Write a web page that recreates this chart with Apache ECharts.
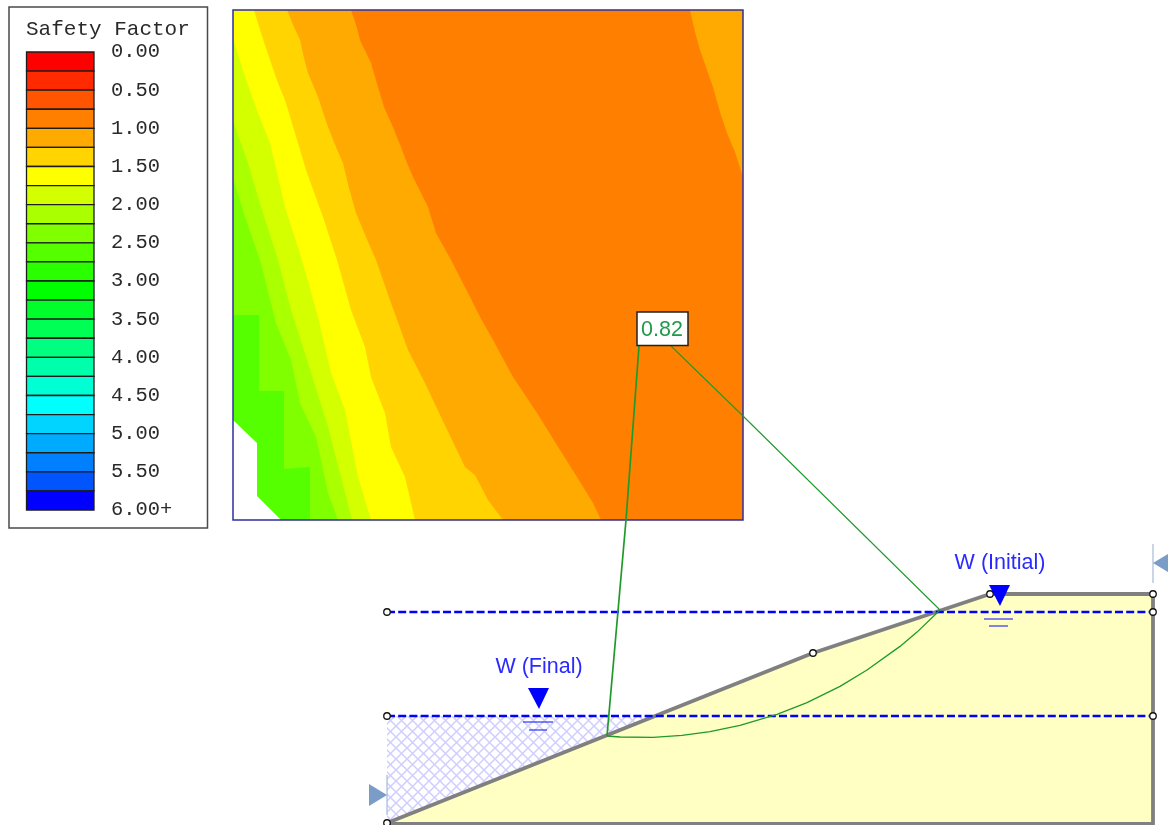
<!DOCTYPE html>
<html>
<head>
<meta charset="utf-8">
<style>html,body{margin:0;padding:0;background:#fff}#c{width:1168px;height:825px}</style>
<script src="https://cdn.jsdelivr.net/npm/echarts@6/dist/echarts.min.js"></script>
</head>
<body>
<div id="c"></div>
<script>
// ---------- Legend data ----------
const legendTitle = 'Safety Factor';
const legendTicks = ['0.00','0.50','1.00','1.50','2.00','2.50','3.00','3.50','4.00','4.50','5.00','5.50','6.00+'];
const legendEdges = [0,0.25,0.5,0.75,1,1.25,1.5,1.75,2,2.25,2.5,2.75,3,3.25,3.5,3.75,4,4.25,4.5,4.75,5,5.25,5.5,5.75,6];
const legendColors = ['#ff0000','#ff2a00','#ff5500','#ff8000','#ffaa00','#ffd400','#ffff00','#d4ff00','#aaff00','#80ff00','#55ff00','#2aff00','#00ff00','#00ff2a','#00ff55','#00ff80','#00ffaa','#00ffd4','#00ffff','#00d4ff','#00aaff','#0080ff','#0055ff','#0000ff'];

// ---------- Contour plot boundaries (drawing units) ----------
const gridFrame = [[233,10],[743,10],[743,520],[233,520]];
const contourTopRight = [[690,10],[695,32],[700,50],[707,70],[713,87],[720,112],[727,133],[735,152],[743,177],[743,10]];
const contourOrangeAmber = [[351,10],[357,28],[360,40],[371,63],[378,87],[384,107],[392,125],[401,147],[407,163],[413,177],[428,207],[436,233],[451,260],[468,293],[480,317],[493,340],[513,377],[537,413],[560,450],[577,477],[593,503],[601,520]];
const contourAmberGold = [[287,10],[294,27],[300,40],[304,58],[308,73],[318,97],[328,127],[336,147],[343,163],[349,188],[356,213],[366,237],[376,260],[391,303],[408,350],[425,383],[441,417],[465,467],[475,475],[488,500],[503,520]];
const contourGoldYellow = [[254,10],[261,33],[271,63],[278,83],[285,100],[295,133],[306,170],[323,217],[337,260],[351,310],[365,347],[371,377],[385,413],[391,447],[405,477],[415,520]];
const contourYellowLime = [[233,38],[245,77],[258,113],[270,143],[285,207],[302,260],[318,317],[331,373],[345,410],[358,477],[371,520]];
const contourLimeA = [[233,121],[248,163],[261,207],[278,260],[291,310],[308,363],[328,427],[341,477],[352,520]];
const contourLimeB = [[233,178],[245,217],[260,260],[276,323],[291,360],[300,403],[316,437],[328,493],[338,520]];
const contourLimeC = [[233,315],[259,315],[259,391],[284,391],[284,469],[310,467],[310,520]];
const contourHole = [[233,420],[257,443],[257,496],[281,520],[233,520]];
const contourBase = '#ff8000';

// ---------- Slope section ----------
const groundOutline = [[387,823],[813,653],[990,594],[1153,594],[1153,824],[387,824]];
const slopeLine = [[387,823],[813,653],[990,594],[1153,594],[1153,824],[387,824],[387,823]];
const pondedArea = [[387,716],[655,716],[387,823]];
const waterInitial = [[387,612],[1153,612]];
const waterFinal = [[387,716],[1153,716]];
const slipArc = [[607,736],[620,737],[653,737.3],[682,735.4],[710,731.6],[740,725.3],[777,714.3],[807,702.6],[840,686.4],[867,670],[900,646.4],[917,632.1],[940,610]];
const leaderLeft = [[607,736],[626,520],[639,346]];
const leaderRight = [[671,346],[742,415],[940,610]];
const nodes = [[387,823],[813,653],[990,594],[1153,594],[1153,612],[1153,716],[387,612],[387,716]];
const waterMarkInitial = [[989,585],[1010,585],[1000,606]];
const waterMarkFinal = [[528,688],[549,688],[539,709]];
const waterTicks = [[[984,619],[1013,619]],[[989,626],[1008,626]],[[523,722],[553,722]],[[529,730],[547,730]]];
const supportMarks = [[[369,784],[369,806],[387,795]],[[1153,563],[1168,554],[1168,572]]];
const supportTicks = [[[387,775],[387,815]],[[1153,544],[1153,583]]];
const labelFinal = {text:'W (Final)', at:[539,667]};
const labelInitial = {text:'W (Initial)', at:[1000,563]};
const minFactor = {text:'0.82', at:[662,330]};
const minFactorBox = [[637,312],[688,312],[688,345.5],[637,345.5]];
const legendBox = [[9,7],[207.5,7],[207.5,528],[9,528]];

// hatch tile for the ponded water
const tile = document.createElement('canvas');
tile.width = tile.height = 11;
(function(){
  const g = tile.getContext('2d');
  g.strokeStyle = '#cfcfff';
  g.lineWidth = 1.5;
  g.beginPath();
  g.moveTo(0,0);g.lineTo(11,11);g.moveTo(11,0);g.lineTo(0,11);
  g.stroke();
})();

const closeLeft = b => b.concat([[233,520],[233,10]]);
const shapesBack = [
  {pts:gridFrame, fill:contourBase},
  {pts:contourTopRight, fill:'#ffaa00'},
  {pts:closeLeft(contourOrangeAmber), fill:'#ffaa00'},
  {pts:closeLeft(contourAmberGold), fill:'#ffd400'},
  {pts:closeLeft(contourGoldYellow), fill:'#ffff00'},
  {pts:closeLeft(contourYellowLime), fill:'#d4ff00'},
  {pts:closeLeft(contourLimeA), fill:'#aaff00'},
  {pts:closeLeft(contourLimeB), fill:'#80ff00'},
  {pts:contourLimeC.concat([[233,520]]), fill:'#55ff00'},
  {pts:contourHole, fill:'#ffffff'},
  {pts:gridFrame, fill:'none', stroke:'#2f2f9c', lw:1.5},
  {pts:legendBox, fill:'none', stroke:'#4a4a4a', lw:1.5},
  {pts:groundOutline, fill:'#ffffc4'},
  {pts:pondedArea, fill:{image:tile, repeat:'repeat'}}
];
const shapesFront = [
  {pts:waterMarkInitial, fill:'#0000ff'},
  {pts:waterMarkFinal, fill:'#0000ff'},
  {pts:supportMarks[0], fill:'#7a9cc6'},
  {pts:supportMarks[1], fill:'#7a9cc6'},
  {pts:minFactorBox, fill:'#ffffff', stroke:'#222222', lw:1.5}
];
const shapeItem = list => (params, api) => {
  const s = list[params.dataIndex];
  return {type:'polygon', shape:{points:s.pts.map(p => api.coord(p))},
    style:{fill:s.fill, stroke:s.stroke || 'none', lineWidth:s.lw || 0}, silent:true};
};
const lineSeries = (data, color, width, dash, z) => ({
  type:'line', xAxisIndex:0, yAxisIndex:0, data, showSymbol:false, silent:true, clip:false, z,
  lineStyle:{color, width, type:dash || 'solid', cap:'butt', join:'round'}
});
const textSeries = (item, color, font, size, z) => ({
  type:'custom', xAxisIndex:0, yAxisIndex:0, z, silent:true, clip:false, data:[item.at],
  renderItem:(p, api) => {
    const c = api.coord(item.at);
    return {type:'text', x:c[0], y:c[1], style:{text:item.text, fill:color, font:size+'px "'+font+'"', align:'center', verticalAlign:'middle'}};
  }
});

const option = {
  animation:false,
  backgroundColor:'#ffffff',
  title:{text:legendTitle, left:26, top:19, padding:0, textStyle:{fontFamily:'Liberation Mono', fontWeight:'normal', fontSize:21, color:'#2a2a2a'}},
  grid:[
    {left:0, top:0, width:1168, height:825, containLabel:false},
    {left:26.5, top:52, width:67.5, height:458, containLabel:false}
  ],
  xAxis:[
    {type:'value', gridIndex:0, min:0, max:1168, show:false},
    {type:'value', gridIndex:1, min:0, max:1, show:false}
  ],
  yAxis:[
    {type:'value', gridIndex:0, min:0, max:825, inverse:true, show:false},
    {type:'value', gridIndex:1, min:0, max:6, interval:0.5, inverse:true, position:'right',
     axisLine:{show:false}, axisTick:{show:false}, splitLine:{show:false},
     axisLabel:{show:true, showMinLabel:true, showMaxLabel:true, align:'left', margin:17, padding:[2,0,0,0],
       fontFamily:'Liberation Mono', fontSize:20.4, color:'#2a2a2a',
       formatter:v => legendTicks[Math.round(v*2)]}}
  ],
  series:[
    {type:'custom', xAxisIndex:0, yAxisIndex:0, z:2, clip:false, silent:true,
     data:shapesBack.map((s,i)=>[i]), renderItem:shapeItem(shapesBack)},
    {type:'custom', xAxisIndex:1, yAxisIndex:1, z:3, clip:false, silent:true,
     data:legendColors.map((c,i)=>[legendEdges[i],legendEdges[i+1]]),
     renderItem:(p, api) => {
       const a = api.coord([0, api.value(0)]), b = api.coord([1, api.value(1)]);
       return {type:'rect', shape:{x:a[0], y:a[1], width:b[0]-a[0], height:b[1]-a[1]},
         style:{fill:legendColors[p.dataIndex], stroke:'#1c1c1c', lineWidth:1.3}};
     }},
    lineSeries(slopeLine, '#808080', 3.8, null, 4),
    lineSeries(waterInitial, '#0000ff', 2.6, [8,3.2], 5),
    lineSeries(waterFinal, '#0000ff', 2.6, [8,3.2], 5),
    lineSeries(slipArc, '#1f9a2a', 1.3, null, 6),
    lineSeries(leaderLeft, '#1f9a2a', 1.7, null, 6),
    lineSeries(leaderRight, '#1f9a2a', 1.1, null, 6),
    ...waterTicks.map(t => lineSeries(t, '#3030ff', 1.2, null, 6)),
    ...supportTicks.map(t => lineSeries(t, '#a4bbd9', 1.2, null, 6)),
    {type:'custom', xAxisIndex:0, yAxisIndex:0, z:7, clip:false, silent:true,
     data:shapesFront.map((s,i)=>[i]), renderItem:shapeItem(shapesFront)},
    {type:'scatter', xAxisIndex:0, yAxisIndex:0, z:8, silent:true, clip:false, data:nodes, symbol:'circle', symbolSize:6.5,
     itemStyle:{color:'#ffffff', borderColor:'#111111', borderWidth:1.3, opacity:1}},
    textSeries(labelFinal, '#2a2aff', 'Liberation Sans', 21.5, 9),
    textSeries(labelInitial, '#2a2aff', 'Liberation Sans', 21.5, 9),
    textSeries(minFactor, '#1f9a4a', 'Liberation Sans', 21.5, 9)
  ]
};
const chart = echarts.init(document.getElementById('c'), null, {renderer:'canvas'});
chart.setOption(option);
</script>
</body>
</html>
